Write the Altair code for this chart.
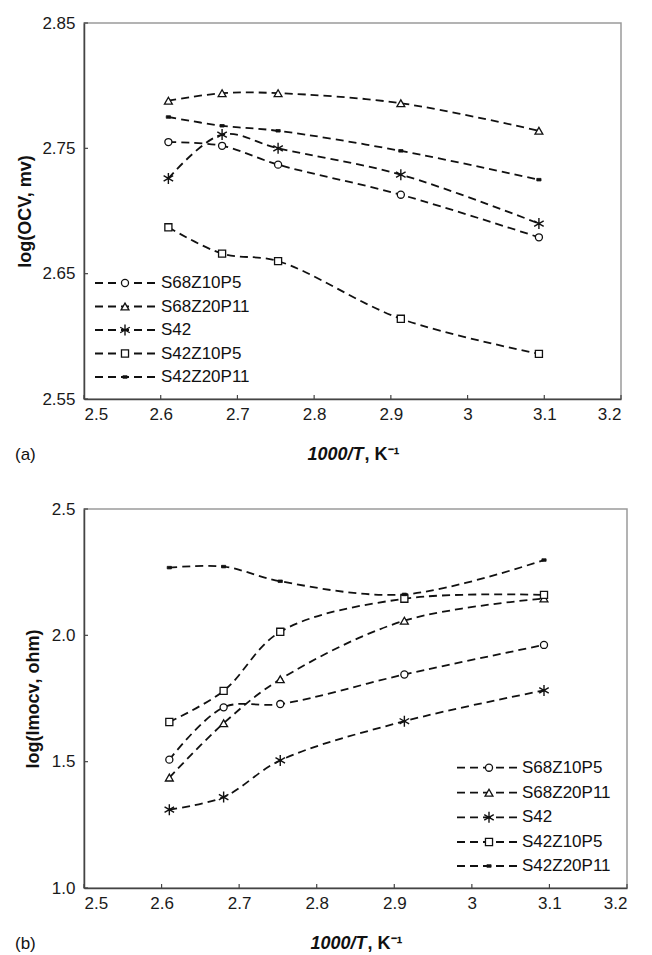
import altair as alt
import pandas as pd

# ---------------- data ----------------
series = ["S68Z10P5", "S68Z20P11", "S42", "S42Z10P5", "S42Z20P11"]
inv_T = [2.61, 2.68, 2.753, 2.913, 3.093]

ocv_S68Z10P5 = [2.755, 2.752, 2.737, 2.713, 2.679]
ocv_S68Z20P11 = [2.788, 2.794, 2.794, 2.786, 2.764]
ocv_S42 = [2.726, 2.761, 2.750, 2.729, 2.690]
ocv_S42Z10P5 = [2.687, 2.666, 2.660, 2.614, 2.586]
ocv_S42Z20P11 = [2.775, 2.768, 2.764, 2.748, 2.725]

imp_S68Z10P5 = [1.508, 1.715, 1.728, 1.845, 1.962]
imp_S68Z20P11 = [1.437, 1.652, 1.826, 2.058, 2.146]
imp_S42 = [1.310, 1.360, 1.505, 1.660, 1.782]
imp_S42Z10P5 = [1.657, 1.780, 2.014, 2.145, 2.160]
imp_S42Z20P11 = [2.268, 2.272, 2.214, 2.162, 2.298]

x_ticks = [2.5, 2.6, 2.7, 2.8, 2.9, 3.0, 3.1, 3.2]
ocv_ticks = [2.55, 2.65, 2.75, 2.85]
imp_ticks = [1.0, 1.5, 2.0, 2.5]

# ---------------- styles ----------------
FONT = "Liberation Sans"
INK = "#111111"
ASTERISK = "M0,-1L0,1M-0.87,-0.5L0.87,0.5M-0.87,0.5L0.87,-0.5"
DOT = "M-1,-0.6L1,-0.6L1,0.6L-1,0.6Z"
shape_range = ["circle", "triangle-up", ASTERISK, "square", DOT]
size_range = [50, 62, 120, 50, 18]
fill_range = ["white", "white", "white", "white", INK]
stroke_w = [1.3, 1.3, 1.4, 1.3, 0.8]
DASH = [8, 5]
LW = 1.8


def make_panel(vals, ylo, yhi, yticks, yfmt, ytitle, W, H, leg, title_dy, tag, tpad):
    df = pd.DataFrame([
        {"series": s, "x": x, "y": v}
        for s in series for x, v in zip(inv_T, vals[s])
    ])
    xsc = alt.Scale(domain=[2.5, 3.2], nice=False, zero=False)
    ysc = alt.Scale(domain=[ylo, yhi], nice=False, zero=False)
    xax = alt.Axis(values=x_ticks, format="~g", title=None, labelPadding=7)
    yax = alt.Axis(values=yticks, format=yfmt, title=ytitle,
                   titlePadding=tpad, labelPadding=9)

    def X(f):
        return alt.X(f, scale=xsc, axis=xax)

    def Y(f):
        return alt.Y(f, scale=ysc, axis=yax)

    layers = []
    layers.append(alt.Chart(df).mark_line(
        color=INK, strokeWidth=LW, strokeDash=DASH, interpolate="catmull-rom"
    ).encode(x=X("x:Q"), y=Y("y:Q"), detail="series:N"))

    # inward ticks
    layers.append(alt.Chart(pd.DataFrame({"x": x_ticks})).mark_rule(color="#444", strokeWidth=1.2).encode(
        x=X("x:Q"), y=alt.value(H), y2=alt.value(H - 4)))
    layers.append(alt.Chart(pd.DataFrame({"y": yticks})).mark_rule(color="#444", strokeWidth=1.2).encode(
        y=Y("y:Q"), x=alt.value(0), x2=alt.value(4)))

    # legend (pixel offsets converted to data space)
    lx0, lx1, lxm, ltx, lys = leg

    def dx(p):
        return 2.5 + p / W * 0.7

    def dy(p):
        return yhi - p / H * (yhi - ylo)

    ldf = pd.DataFrame({
        "series": series,
        "a": [dx(lx0)] * 5, "b": [dx(lx1)] * 5, "m": [dx(lxm)] * 5,
        "t": [dx(ltx)] * 5, "ly": [dy(p) for p in lys],
    })
    layers.append(alt.Chart(ldf).mark_rule(color=INK, strokeWidth=LW, strokeDash=DASH).encode(
        x=X("a:Q"), x2="b:Q", y=Y("ly:Q")))
    layers.append(alt.Chart(ldf).mark_text(
        align="left", baseline="middle", font=FONT, fontSize=17, color=INK
    ).encode(x=X("t:Q"), y=Y("ly:Q"), text="series:N"))

    # markers, one layer per series (data points and legend sample)
    for i, s in enumerate(series):
        style = dict(shape=shape_range[i], size=size_range[i], filled=True,
                     fill=fill_range[i], stroke=INK, strokeWidth=stroke_w[i], opacity=1)
        layers.append(alt.Chart(df[df["series"] == s]).mark_point(**style).encode(
            x=X("x:Q"), y=Y("y:Q")))
        layers.append(alt.Chart(ldf[ldf["series"] == s]).mark_point(**style).encode(
            x=X("m:Q"), y=Y("ly:Q")))

    one = pd.DataFrame({"k": [0]})
    split = W / 2 + 11
    layers.append(alt.Chart(one).mark_text(
        text="1000/T", font=FONT, fontSize=18, fontWeight="bold", fontStyle="italic",
        align="right", baseline="middle", color=INK
    ).encode(x=alt.value(split), y=alt.value(H + title_dy)))
    layers.append(alt.Chart(one).mark_text(
        text=", K⁻¹", font=FONT, fontSize=18, fontWeight="bold",
        align="left", baseline="middle", color=INK
    ).encode(x=alt.value(split + 1), y=alt.value(H + title_dy)))
    layers.append(alt.Chart(one).mark_text(
        text=tag, font=FONT, fontSize=17, align="left", baseline="middle", color=INK
    ).encode(x=alt.value(-69), y=alt.value(H + title_dy)))

    return alt.layer(*layers).properties(width=W, height=H)


ocv = {"S68Z10P5": ocv_S68Z10P5, "S68Z20P11": ocv_S68Z20P11, "S42": ocv_S42,
       "S42Z10P5": ocv_S42Z10P5, "S42Z20P11": ocv_S42Z20P11}
imp = {"S68Z10P5": imp_S68Z10P5, "S68Z20P11": imp_S68Z20P11, "S42": imp_S42,
       "S42Z10P5": imp_S42Z10P5, "S42Z20P11": imp_S42Z20P11}

top = make_panel(ocv, 2.55, 2.85, ocv_ticks, ".2f", "log(OCV, mv)", 537, 376,
                 (11, 71, 41, 77, [260, 283.5, 307, 330.5, 354]), 56, "(a)", 7)
bottom = make_panel(imp, 1.0, 2.5, imp_ticks, ".1f", "log(Imᴏᴄᴠ, ohm)", 543, 379,
                    (373, 433, 405, 438, [258.7, 283.7, 308.3, 333, 357]), 56, "(b)", 9)

chart = alt.vconcat(top, bottom, spacing=110, bounds="flush").properties(
    padding={"left": 6, "top": 5, "right": 5, "bottom": 0}
).configure_view(
    stroke="#9a9a9a", strokeWidth=1.5
).configure_axis(
    labelFont=FONT, labelFontSize=17, labelColor="#1a1a1a",
    titleFont=FONT, titleFontSize=18, titleFontWeight="bold", titleColor=INK,
    domainColor="#444444", domainWidth=1.5, ticks=False, grid=False
)

chart.save("out.html", embed_options={"renderer": "svg", "actions": False})
